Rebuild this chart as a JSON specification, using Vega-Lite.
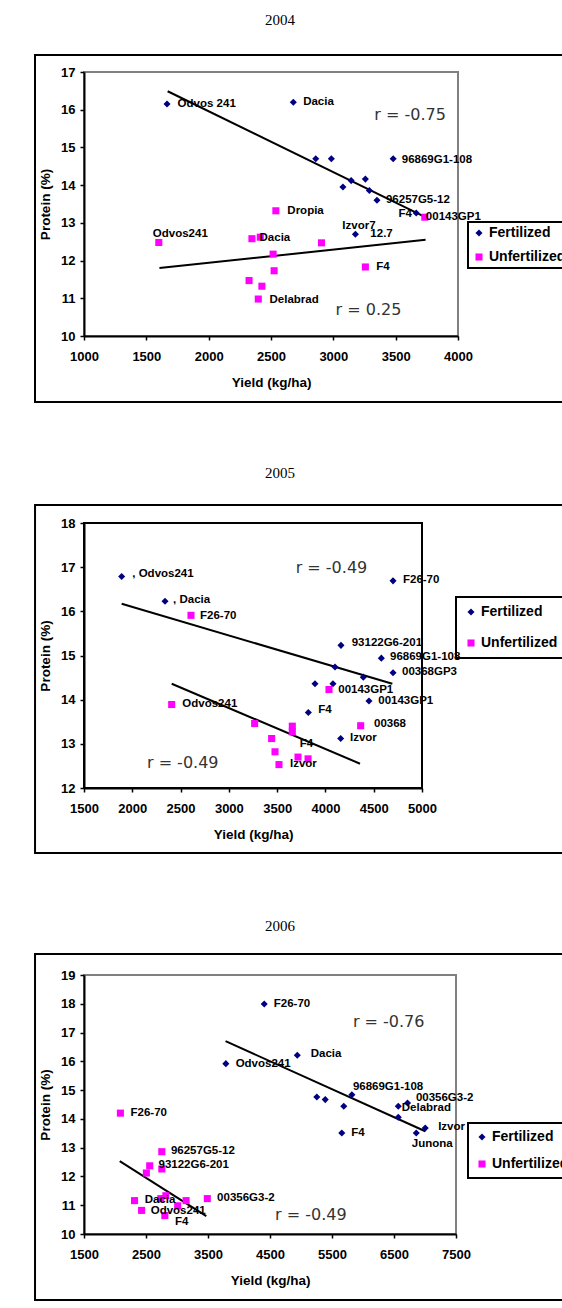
{
"$schema": "https://vega.github.io/schema/vega-lite/v6.json",
"background": "white",
"autosize": {"type": "pad"},
"padding": {"left": 33, "top": 11, "right": 0, "bottom": 0},
"bounds": "flush",
"spacing": 187,
"resolve": {"scale": {"color": "independent", "shape": "independent"}, "legend": {"color": "independent", "shape": "independent"}},
"config": {
  "font": "Liberation Sans",
  "axis": {"labelFont": "Liberation Sans", "labelFontWeight": "bold", "labelFontSize": 13, "labelColor": "black", "titleFont": "Liberation Sans", "titleFontWeight": "bold", "titleFontSize": 13.5, "titleColor": "black", "domainColor": "black", "domainWidth": 2, "tickColor": "black", "tickWidth": 1.5, "tickSize": 4, "gridColor": "black", "gridWidth": 1.5, "gridOpacity": 1, "labelFlush": false, "labelOverlap": false, "format": "d"},
  "axisX": {"grid": false, "labelPadding": 10, "titlePadding": 12},
  "axisY": {"labelPadding": 5, "titlePadding": 8},
  "legend": {"strokeColor": "black", "strokeWidth": 2, "labelFont": "Liberation Sans", "labelFontWeight": "bold", "labelFontSize": 14, "labelColor": "black", "symbolSize": 50, "symbolStrokeWidth": 0, "labelOffset": 3},
  "title": {"font": "Liberation Serif", "fontSize": 15, "fontWeight": "normal", "color": "black", "anchor": "middle", "frame": "group", "baseline": "bottom"}
},
"datasets": {
  "points": [
    {"year": 2004, "series": "Fertilized", "yield": 1666, "protein": 16.15},
    {"year": 2004, "series": "Fertilized", "yield": 2679, "protein": 16.20},
    {"year": 2004, "series": "Fertilized", "yield": 2859, "protein": 14.70},
    {"year": 2004, "series": "Fertilized", "yield": 2984, "protein": 14.70},
    {"year": 2004, "series": "Fertilized", "yield": 3480, "protein": 14.70},
    {"year": 2004, "series": "Fertilized", "yield": 3257, "protein": 14.16},
    {"year": 2004, "series": "Fertilized", "yield": 3143, "protein": 14.12},
    {"year": 2004, "series": "Fertilized", "yield": 3077, "protein": 13.95},
    {"year": 2004, "series": "Fertilized", "yield": 3289, "protein": 13.86},
    {"year": 2004, "series": "Fertilized", "yield": 3350, "protein": 13.60},
    {"year": 2004, "series": "Fertilized", "yield": 3665, "protein": 13.26},
    {"year": 2004, "series": "Fertilized", "yield": 3177, "protein": 12.70},
    {"year": 2004, "series": "Unfertilized", "yield": 2539, "protein": 13.32},
    {"year": 2004, "series": "Unfertilized", "yield": 1600, "protein": 12.48},
    {"year": 2004, "series": "Unfertilized", "yield": 2347, "protein": 12.58},
    {"year": 2004, "series": "Unfertilized", "yield": 2414, "protein": 12.62},
    {"year": 2004, "series": "Unfertilized", "yield": 2905, "protein": 12.47},
    {"year": 2004, "series": "Unfertilized", "yield": 2517, "protein": 12.17},
    {"year": 2004, "series": "Unfertilized", "yield": 2525, "protein": 11.73},
    {"year": 2004, "series": "Unfertilized", "yield": 2324, "protein": 11.47},
    {"year": 2004, "series": "Unfertilized", "yield": 2427, "protein": 11.32},
    {"year": 2004, "series": "Unfertilized", "yield": 2398, "protein": 10.98},
    {"year": 2004, "series": "Unfertilized", "yield": 3734, "protein": 13.15},
    {"year": 2004, "series": "Unfertilized", "yield": 3257, "protein": 11.83},
    {"year": 2005, "series": "Fertilized", "yield": 1890, "protein": 16.79},
    {"year": 2005, "series": "Fertilized", "yield": 2339, "protein": 16.23},
    {"year": 2005, "series": "Fertilized", "yield": 4700, "protein": 16.69},
    {"year": 2005, "series": "Fertilized", "yield": 4161, "protein": 15.23},
    {"year": 2005, "series": "Fertilized", "yield": 4579, "protein": 14.94},
    {"year": 2005, "series": "Fertilized", "yield": 4700, "protein": 14.61},
    {"year": 2005, "series": "Fertilized", "yield": 4099, "protein": 14.74},
    {"year": 2005, "series": "Fertilized", "yield": 4392, "protein": 14.51},
    {"year": 2005, "series": "Fertilized", "yield": 3892, "protein": 14.36},
    {"year": 2005, "series": "Fertilized", "yield": 4078, "protein": 14.36},
    {"year": 2005, "series": "Fertilized", "yield": 4451, "protein": 13.97},
    {"year": 2005, "series": "Fertilized", "yield": 3823, "protein": 13.71},
    {"year": 2005, "series": "Fertilized", "yield": 4158, "protein": 13.12},
    {"year": 2005, "series": "Unfertilized", "yield": 2608, "protein": 15.91},
    {"year": 2005, "series": "Unfertilized", "yield": 4037, "protein": 14.23},
    {"year": 2005, "series": "Unfertilized", "yield": 4365, "protein": 13.41},
    {"year": 2005, "series": "Unfertilized", "yield": 3657, "protein": 13.40},
    {"year": 2005, "series": "Unfertilized", "yield": 3657, "protein": 13.27},
    {"year": 2005, "series": "Unfertilized", "yield": 3716, "protein": 12.70},
    {"year": 2005, "series": "Unfertilized", "yield": 3820, "protein": 12.66},
    {"year": 2005, "series": "Unfertilized", "yield": 3519, "protein": 12.53},
    {"year": 2005, "series": "Unfertilized", "yield": 2408, "protein": 13.89},
    {"year": 2005, "series": "Unfertilized", "yield": 3267, "protein": 13.46},
    {"year": 2005, "series": "Unfertilized", "yield": 3443, "protein": 13.12},
    {"year": 2005, "series": "Unfertilized", "yield": 3478, "protein": 12.82},
    {"year": 2006, "series": "Fertilized", "yield": 4407, "protein": 17.99},
    {"year": 2006, "series": "Fertilized", "yield": 3788, "protein": 15.92},
    {"year": 2006, "series": "Fertilized", "yield": 4940, "protein": 16.21},
    {"year": 2006, "series": "Fertilized", "yield": 5255, "protein": 14.76},
    {"year": 2006, "series": "Fertilized", "yield": 5391, "protein": 14.67},
    {"year": 2006, "series": "Fertilized", "yield": 5690, "protein": 14.44},
    {"year": 2006, "series": "Fertilized", "yield": 5821, "protein": 14.84},
    {"year": 2006, "series": "Fertilized", "yield": 6569, "protein": 14.44},
    {"year": 2006, "series": "Fertilized", "yield": 6718, "protein": 14.55},
    {"year": 2006, "series": "Fertilized", "yield": 6569, "protein": 14.06},
    {"year": 2006, "series": "Fertilized", "yield": 6859, "protein": 13.51},
    {"year": 2006, "series": "Fertilized", "yield": 7004, "protein": 13.68},
    {"year": 2006, "series": "Fertilized", "yield": 5658, "protein": 13.51},
    {"year": 2006, "series": "Unfertilized", "yield": 2087, "protein": 14.20},
    {"year": 2006, "series": "Unfertilized", "yield": 2755, "protein": 12.86},
    {"year": 2006, "series": "Unfertilized", "yield": 2560, "protein": 12.37},
    {"year": 2006, "series": "Unfertilized", "yield": 2506, "protein": 12.12},
    {"year": 2006, "series": "Unfertilized", "yield": 2755, "protein": 12.26},
    {"year": 2006, "series": "Unfertilized", "yield": 2315, "protein": 11.16},
    {"year": 2006, "series": "Unfertilized", "yield": 2429, "protein": 10.82},
    {"year": 2006, "series": "Unfertilized", "yield": 2739, "protein": 11.23},
    {"year": 2006, "series": "Unfertilized", "yield": 2820, "protein": 11.33},
    {"year": 2006, "series": "Unfertilized", "yield": 3011, "protein": 10.98},
    {"year": 2006, "series": "Unfertilized", "yield": 3147, "protein": 11.16},
    {"year": 2006, "series": "Unfertilized", "yield": 2804, "protein": 10.64},
    {"year": 2006, "series": "Unfertilized", "yield": 3489, "protein": 11.23}
  ],
  "trends": [
    {"year": 2004, "series": "Fertilized", "yield": 1671, "protein": 16.49},
    {"year": 2004, "series": "Fertilized", "yield": 3726, "protein": 13.17},
    {"year": 2004, "series": "Unfertilized", "yield": 1605, "protein": 11.80},
    {"year": 2004, "series": "Unfertilized", "yield": 3740, "protein": 12.55},
    {"year": 2005, "series": "Fertilized", "yield": 1890, "protein": 16.17},
    {"year": 2005, "series": "Fertilized", "yield": 4693, "protein": 14.36},
    {"year": 2005, "series": "Unfertilized", "yield": 2408, "protein": 14.36},
    {"year": 2005, "series": "Unfertilized", "yield": 4358, "protein": 12.55},
    {"year": 2006, "series": "Fertilized", "yield": 3783, "protein": 16.70},
    {"year": 2006, "series": "Fertilized", "yield": 7004, "protein": 13.57},
    {"year": 2006, "series": "Unfertilized", "yield": 2076, "protein": 12.53},
    {"year": 2006, "series": "Unfertilized", "yield": 3473, "protein": 10.62}
  ],
  "labels": [
    {"year": 2004, "text": "Odvos 241", "yield": 1751, "protein": 16.15},
    {"year": 2004, "text": "Dacia", "yield": 2758, "protein": 16.20},
    {"year": 2004, "text": "96869G1-108", "yield": 3549, "protein": 14.67},
    {"year": 2004, "text": "96257G5-12", "yield": 3422, "protein": 13.61},
    {"year": 2004, "text": "F4", "yield": 3522, "protein": 13.23},
    {"year": 2004, "text": "00143GP1", "yield": 3742, "protein": 13.15},
    {"year": 2004, "text": "Izvor7", "yield": 3072, "protein": 12.92},
    {"year": 2004, "text": "12.7", "yield": 3297, "protein": 12.70},
    {"year": 2004, "text": "Dropia", "yield": 2631, "protein": 13.31},
    {"year": 2004, "text": "Odvos241", "yield": 1552, "protein": 12.70},
    {"year": 2004, "text": "Dacia", "yield": 2408, "protein": 12.60},
    {"year": 2004, "text": "Delabrad", "yield": 2488, "protein": 10.96},
    {"year": 2004, "text": "F4", "yield": 3344, "protein": 11.83},
    {"year": 2005, "text": ", Odvos241", "yield": 2000, "protein": 16.84},
    {"year": 2005, "text": ", Dacia", "yield": 2422, "protein": 16.26},
    {"year": 2005, "text": "F26-70", "yield": 2701, "protein": 15.89},
    {"year": 2005, "text": "F26-70", "yield": 4803, "protein": 16.71},
    {"year": 2005, "text": "93122G6-201", "yield": 4272, "protein": 15.28},
    {"year": 2005, "text": "96869G1-108", "yield": 4669, "protein": 14.97},
    {"year": 2005, "text": "00368GP3", "yield": 4793, "protein": 14.63},
    {"year": 2005, "text": "00143GP1", "yield": 4133, "protein": 14.22},
    {"year": 2005, "text": "00143GP1", "yield": 4547, "protein": 13.97},
    {"year": 2005, "text": "F4", "yield": 3926, "protein": 13.77},
    {"year": 2005, "text": "00368", "yield": 4503, "protein": 13.45},
    {"year": 2005, "text": "Izvor", "yield": 4254, "protein": 13.13},
    {"year": 2005, "text": "F4", "yield": 3734, "protein": 12.99},
    {"year": 2005, "text": "Izvor", "yield": 3633, "protein": 12.54},
    {"year": 2005, "text": "Odvos241", "yield": 2518, "protein": 13.90},
    {"year": 2006, "text": "F26-70", "yield": 4561, "protein": 17.99},
    {"year": 2006, "text": "Odvos241", "yield": 3946, "protein": 15.91},
    {"year": 2006, "text": "Dacia", "yield": 5157, "protein": 16.27},
    {"year": 2006, "text": "96869G1-108", "yield": 5837, "protein": 15.11},
    {"year": 2006, "text": "00356G3-2", "yield": 6853, "protein": 14.73},
    {"year": 2006, "text": "Delabrad", "yield": 6625, "protein": 14.39},
    {"year": 2006, "text": "Izvor", "yield": 7212, "protein": 13.72},
    {"year": 2006, "text": "Junona", "yield": 6788, "protein": 13.13},
    {"year": 2006, "text": "F4", "yield": 5810, "protein": 13.51},
    {"year": 2006, "text": "F26-70", "yield": 2250, "protein": 14.21},
    {"year": 2006, "text": "96257G5-12", "yield": 2902, "protein": 12.88},
    {"year": 2006, "text": "93122G6-201", "yield": 2702, "protein": 12.40},
    {"year": 2006, "text": "Dacia", "yield": 2478, "protein": 11.19},
    {"year": 2006, "text": "Odvos241", "yield": 2576, "protein": 10.79},
    {"year": 2006, "text": "F4", "yield": 2967, "protein": 10.42},
    {"year": 2006, "text": "00356G3-2", "yield": 3647, "protein": 11.25}
  ],
  "rlabels": [
    {"year": 2004, "text": "r = -0.75", "yield": 3329, "protein": 15.87},
    {"year": 2004, "text": "r = 0.25", "yield": 3018, "protein": 10.69},
    {"year": 2005, "text": "r = -0.49", "yield": 3692, "protein": 16.98},
    {"year": 2005, "text": "r = -0.49", "yield": 2152, "protein": 12.57},
    {"year": 2006, "text": "r = -0.76", "yield": 5837, "protein": 17.36},
    {"year": 2006, "text": "r = -0.49", "yield": 4582, "protein": 10.66}
  ]
},
"vconcat": [
  {
    "width": 374, "height": 264,
    "title": {"text": "2004", "offset": 26, "dx": 9},
    "view": {"stroke": "#808080", "strokeWidth": 2},
    "layer": [
      {"data": {"values": [{"panel": "2004"}]}, "mark": {"type": "rect", "fill": "transparent", "stroke": "black", "strokeWidth": 2, "clip": false},
       "encoding": {"x": {"datum": 607, "type": "quantitative", "title": "Yield (kg/ha)", "scale": {"domain": [1000, 4000], "nice": false, "zero": false}, "axis": {"values": [1000, 1500, 2000, 2500, 3000, 3500, 4000]}}, "x2": {"datum": 4858}, "y": {"datum": 17.451, "type": "quantitative", "title": "Protein (%)", "scale": {"domain": [10, 17], "nice": false, "zero": false}, "axis": {"values": [10, 11, 12, 13, 14, 15, 16, 17]}}, "y2": {"datum": 8.25}}},
      {
        "encoding": {
          "x": {"field": "yield", "type": "quantitative", "title": "Yield (kg/ha)", "scale": {"domain": [1000, 4000], "nice": false, "zero": false}, "axis": {"values": [1000, 1500, 2000, 2500, 3000, 3500, 4000]}},
          "y": {"field": "protein", "type": "quantitative", "title": "Protein (%)", "scale": {"domain": [10, 17], "nice": false, "zero": false}, "axis": {"values": [10, 11, 12, 13, 14, 15, 16, 17]}}
        },
        "layer": [
          {"data": {"name": "trends"}, "transform": [{"filter": "datum.year == 2004"}], "mark": {"type": "line", "color": "black", "strokeWidth": 2}, "encoding": {"detail": {"field": "series"}}},
          {"data": {"name": "points"}, "transform": [{"filter": "datum.year == 2004"}], "mark": {"type": "point", "filled": true, "size": 50, "opacity": 1},
           "encoding": {
             "color": {"field": "series", "type": "nominal", "scale": {"domain": ["Fertilized", "Unfertilized"], "range": ["#000080", "#FF00FF"]}, "legend": {"title": null, "orient": "none", "legendX": 384, "legendY": 150, "padding": 4, "rowPadding": 10}},
             "shape": {"field": "series", "type": "nominal", "scale": {"domain": ["Fertilized", "Unfertilized"], "range": ["diamond", "square"]}, "legend": {"title": null, "orient": "none", "legendX": 384, "legendY": 150, "padding": 4, "rowPadding": 10}}
           }},
          {"data": {"name": "labels"}, "transform": [{"filter": "datum.year == 2004"}], "mark": {"type": "text", "align": "left", "baseline": "middle", "font": "Liberation Sans", "fontWeight": "bold", "fontSize": 11.5, "color": "black"}, "encoding": {"text": {"field": "text"}}},
          {"data": {"name": "rlabels"}, "transform": [{"filter": "datum.year == 2004"}], "mark": {"type": "text", "align": "left", "baseline": "middle", "font": "DejaVu Sans", "fontSize": 16, "color": "#333333"}, "encoding": {"text": {"field": "text"}}}
        ]
      }
    ]
  },
  {
    "width": 338, "height": 265,
    "title": {"text": "2005", "offset": 23, "dx": 27},
    "view": {"stroke": "black", "strokeWidth": 2},
    "layer": [
      {"data": {"values": [{"panel": "2005"}]}, "mark": {"type": "rect", "fill": "transparent", "stroke": "black", "strokeWidth": 2, "clip": false},
       "encoding": {"x": {"datum": 993, "type": "quantitative", "title": "Yield (kg/ha)", "scale": {"domain": [1500, 5000], "nice": false, "zero": false}, "axis": {"values": [1500, 2000, 2500, 3000, 3500, 4000, 4500, 5000]}}, "x2": {"datum": 6481}, "y": {"datum": 18.408, "type": "quantitative", "title": "Protein (%)", "scale": {"domain": [12, 18], "nice": false, "zero": false}, "axis": {"values": [12, 13, 14, 15, 16, 17, 18]}}, "y2": {"datum": 10.53}}},
      {
        "encoding": {
          "x": {"field": "yield", "type": "quantitative", "title": "Yield (kg/ha)", "scale": {"domain": [1500, 5000], "nice": false, "zero": false}, "axis": {"values": [1500, 2000, 2500, 3000, 3500, 4000, 4500, 5000]}},
          "y": {"field": "protein", "type": "quantitative", "title": "Protein (%)", "scale": {"domain": [12, 18], "nice": false, "zero": false}, "axis": {"values": [12, 13, 14, 15, 16, 17, 18]}}
        },
        "layer": [
          {"data": {"name": "trends"}, "transform": [{"filter": "datum.year == 2005"}], "mark": {"type": "line", "color": "black", "strokeWidth": 2}, "encoding": {"detail": {"field": "series"}}},
          {"data": {"name": "points"}, "transform": [{"filter": "datum.year == 2005"}], "mark": {"type": "point", "filled": true, "size": 50, "opacity": 1},
           "encoding": {
             "color": {"field": "series", "type": "nominal", "scale": {"domain": ["Fertilized", "Unfertilized"], "range": ["#000080", "#FF00FF"]}, "legend": {"title": null, "orient": "none", "legendX": 372, "legendY": 74, "padding": 8, "rowPadding": 17}},
             "shape": {"field": "series", "type": "nominal", "scale": {"domain": ["Fertilized", "Unfertilized"], "range": ["diamond", "square"]}, "legend": {"title": null, "orient": "none", "legendX": 372, "legendY": 74, "padding": 8, "rowPadding": 17}}
           }},
          {"data": {"name": "labels"}, "transform": [{"filter": "datum.year == 2005"}], "mark": {"type": "text", "align": "left", "baseline": "middle", "font": "Liberation Sans", "fontWeight": "bold", "fontSize": 11.5, "color": "black"}, "encoding": {"text": {"field": "text"}}},
          {"data": {"name": "rlabels"}, "transform": [{"filter": "datum.year == 2005"}], "mark": {"type": "text", "align": "left", "baseline": "middle", "font": "DejaVu Sans", "fontSize": 16, "color": "#333333"}, "encoding": {"text": {"field": "text"}}}
        ]
      }
    ]
  },
  {
    "width": 372, "height": 259,
    "title": {"text": "2006", "offset": 19, "dx": 10},
    "view": {"stroke": "#808080", "strokeWidth": 2},
    "layer": [
      {"data": {"values": [{"panel": "2006"}]}, "mark": {"type": "rect", "fill": "transparent", "stroke": "black", "strokeWidth": 2, "clip": false},
       "encoding": {"x": {"datum": 710, "type": "quantitative", "title": "Yield (kg/ha)", "scale": {"domain": [1500, 7500], "nice": false, "zero": false}, "axis": {"values": [1500, 2500, 3500, 4500, 5500, 6500, 7500]}}, "x2": {"datum": 9258}, "y": {"datum": 19.73, "type": "quantitative", "title": "Protein (%)", "scale": {"domain": [10, 19], "nice": false, "zero": false}, "axis": {"values": [10, 11, 12, 13, 14, 15, 16, 17, 18, 19]}}, "y2": {"datum": 7.71}}},
      {
        "encoding": {
          "x": {"field": "yield", "type": "quantitative", "title": "Yield (kg/ha)", "scale": {"domain": [1500, 7500], "nice": false, "zero": false}, "axis": {"values": [1500, 2500, 3500, 4500, 5500, 6500, 7500]}},
          "y": {"field": "protein", "type": "quantitative", "title": "Protein (%)", "scale": {"domain": [10, 19], "nice": false, "zero": false}, "axis": {"values": [10, 11, 12, 13, 14, 15, 16, 17, 18, 19]}}
        },
        "layer": [
          {"data": {"name": "trends"}, "transform": [{"filter": "datum.year == 2006"}], "mark": {"type": "line", "color": "black", "strokeWidth": 2}, "encoding": {"detail": {"field": "series"}}},
          {"data": {"name": "points"}, "transform": [{"filter": "datum.year == 2006"}], "mark": {"type": "point", "filled": true, "size": 50, "opacity": 1},
           "encoding": {
             "color": {"field": "series", "type": "nominal", "scale": {"domain": ["Fertilized", "Unfertilized"], "range": ["#000080", "#FF00FF"]}, "legend": {"title": null, "orient": "none", "legendX": 384, "legendY": 148, "padding": 7, "rowPadding": 13}},
             "shape": {"field": "series", "type": "nominal", "scale": {"domain": ["Fertilized", "Unfertilized"], "range": ["diamond", "square"]}, "legend": {"title": null, "orient": "none", "legendX": 384, "legendY": 148, "padding": 7, "rowPadding": 13}}
           }},
          {"data": {"name": "labels"}, "transform": [{"filter": "datum.year == 2006"}], "mark": {"type": "text", "align": "left", "baseline": "middle", "font": "Liberation Sans", "fontWeight": "bold", "fontSize": 11.5, "color": "black"}, "encoding": {"text": {"field": "text"}}},
          {"data": {"name": "rlabels"}, "transform": [{"filter": "datum.year == 2006"}], "mark": {"type": "text", "align": "left", "baseline": "middle", "font": "DejaVu Sans", "fontSize": 16, "color": "#333333"}, "encoding": {"text": {"field": "text"}}}
        ]
      }
    ]
  }
]
}
